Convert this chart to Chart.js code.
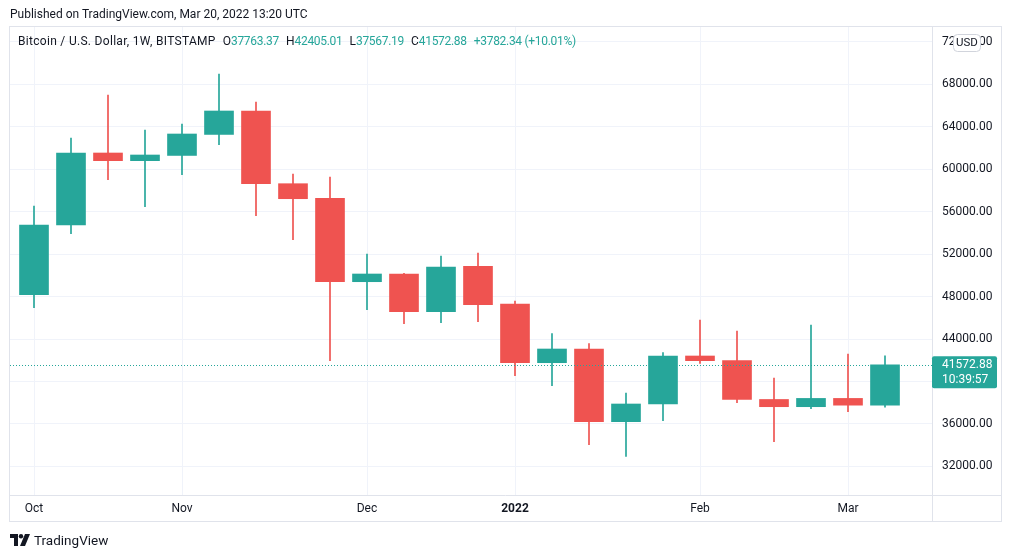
<!DOCTYPE html>
<html>
<head>
<meta charset="utf-8">
<script src="https://cdn.jsdelivr.net/npm/chart.js@4.4.1/dist/chart.umd.min.js"></script>
<style>
  html, body { margin: 0; padding: 0; background: #ffffff; }
  body { width: 1012px; height: 558px; position: relative; overflow: hidden; font-family: Roboto, "Liberation Sans", sans-serif; color: #131722; }
  #wrap { position: absolute; left: 0; top: 0; width: 1012px; height: 558px; }
  #published { position: absolute; left: 10px; top: 6px; font-size: 12px; line-height: 16px; color: #131722; white-space: nowrap; }
  #legend { position: absolute; left: 18px; top: 33px; font-size: 12px; line-height: 16px; color: #131722; white-space: nowrap; }
  #legend .name { letter-spacing: 0.3px; }
  #legend .v { color: #26a69a; letter-spacing: -0.3px; }
  #legend .k { margin-left: 7px; }
  #footer { position: absolute; left: 10px; top: 531px; font-size: 13.5px; line-height: 18px; color: #131722; white-space: nowrap; display: flex; align-items: center; }
  #footer svg { margin-right: 4px; }
</style>
</head>
<body>
<div id="wrap"><canvas id="c" width="1012" height="558"></canvas></div>
<div id="published">Published on TradingView.com, Mar 20, 2022 13:20 UTC</div>
<div id="legend"><span class="name">Bitcoin / U.S. Dollar, 1W, BITSTAMP</span><span class="k">O</span><span class="v">37763.37</span><span class="k">H</span><span class="v">42405.01</span><span class="k">L</span><span class="v">37567.19</span><span class="k">C</span><span class="v">41572.88</span><span class="v" style="margin-left:7px">+3782.34 (+10.01%)</span></div>
<div id="footer"><svg width="20" height="12" viewBox="0 0 20 12"><path d="M0 0h8v12H4V4H0z" fill="#131722"/><circle cx="11" cy="2.2" r="2.2" fill="#131722"/><path d="M15 0h5l-5 12h-5z" fill="#131722"/></svg>TradingView</div>
<script>
// ---- Data (weekly candles, BTC/USD Bitstamp) ----
const weeks  = ["2021-10-04","2021-10-11","2021-10-18","2021-10-25","2021-11-01","2021-11-08","2021-11-15","2021-11-22",
                "2021-11-29","2021-12-06","2021-12-13","2021-12-20","2021-12-27","2022-01-03","2022-01-10","2022-01-17",
                "2022-01-24","2022-01-31","2022-02-07","2022-02-14","2022-02-21","2022-02-28","2022-03-07","2022-03-14"];
const opens  = [48175, 54745, 61530, 60805, 61300, 63280, 65489, 58637, 57260, 49400, 50126, 46573,
                50850, 47280, 41766, 43057, 36206, 37874, 42398, 41960, 38300, 37619, 38400, 37763.37];
const highs  = [56535, 62944, 66997, 63698, 64264, 68976, 66337, 59551, 59268, 52011, 50190, 51823,
                52105, 47581, 44500, 43557, 38910, 42710, 45791, 44754, 40324, 45320, 42586, 42405.01];
const lows   = [46950, 53924, 59014, 56470, 59485, 62313, 55621, 53359, 41955, 46761, 45442, 45536,
                45630, 40541, 39598, 34038, 32944, 36300, 41710, 37996, 34321, 37431, 37148, 37567.19];
const closes = [54745, 61530, 60805, 61342, 63321, 65489, 58637, 57223, 49400, 50126, 46573, 50786,
                47233, 41766, 43057, 36206, 37874, 42398, 41960, 38300, 37619, 38400, 37763.37, 41572.88];
const timeTickWeeks  = ["2021-10-04","2021-11-01","2021-12-06","2022-01-03","2022-02-07","2022-03-07"];
const timeTickLabels = ["Oct","Nov","Dec","2022","Feb","Mar"];
const priceTicks = [32000, 36000, 40000, 44000, 48000, 52000, 56000, 60000, 64000, 68000, 72000];
const lastPrice = 41572.88;
const countdown = "10:39:57";
const currency = "USD";

const UP = '#26a69a', DOWN = '#ef5350';
const FONT = 'Roboto, "Liberation Sans", sans-serif';

const bodyData = weeks.map((w, i) => ({ x: i, y: [opens[i], closes[i]] }));
const wickData = weeks.map((w, i) => ({ x: i, y: [lows[i], highs[i]] }));
const colors = weeks.map((w, i) => closes[i] >= opens[i] ? UP : DOWN);
const tickIdx = timeTickWeeks.map(w => weeks.indexOf(w));

const overlay = {
  id: 'overlay',
  beforeDraw(chart) {
    const c = chart.ctx;
    c.save(); c.fillStyle = '#ffffff'; c.fillRect(0, 0, chart.width, chart.height); c.restore();
  },
  afterDatasetsDraw(chart) {
    const c = chart.ctx, a = chart.chartArea, y = Math.round(chart.scales.y.getPixelForValue(lastPrice)) + 0.5;
    c.save();
    c.strokeStyle = UP; c.lineWidth = 1; c.setLineDash([1, 2]);
    c.beginPath(); c.moveTo(a.left, y); c.lineTo(a.right, y); c.stroke();
    c.restore();
  },
  afterDraw(chart) {
    const c = chart.ctx, a = chart.chartArea, ys = chart.scales.y, xs = chart.scales.x;
    c.save();
    // frame
    c.strokeStyle = '#e0e3eb'; c.lineWidth = 1;
    const L = a.left - 0.5, T = a.top - 0.5, R = ys.right - 0.5, B = xs.bottom - 0.5;
    c.strokeRect(L, T, R - L, B - T);
    c.beginPath();
    c.moveTo(a.right + 0.5, T); c.lineTo(a.right + 0.5, B);
    c.moveTo(L, a.bottom + 0.5); c.lineTo(R, a.bottom + 0.5);
    c.stroke();
    // last price label
    const py = ys.getPixelForValue(lastPrice);
    c.fillStyle = UP;
    c.beginPath(); c.roundRect(a.right, py - 8.5, 65, 32, 2); c.fill();
    c.fillStyle = '#ffffff'; c.font = '12px ' + FONT; c.textBaseline = 'middle'; c.textAlign = 'left';
    c.fillText(lastPrice.toFixed(2), a.right + 10, py + 0.5);
    c.fillText(countdown, a.right + 10, py + 15.5);
    // currency badge
    c.fillStyle = '#ffffff'; c.strokeStyle = '#d1d4dc';
    c.beginPath(); c.roundRect(953.5, 34.5, 27, 17, 4); c.fill(); c.stroke();
    c.fillStyle = '#131722'; c.font = '11.5px ' + FONT; c.textAlign = 'center';
    c.fillText(currency, 967, 43.5);
    c.restore();
  }
};

new Chart(document.getElementById('c'), {
  type: 'bar',
  data: {
    datasets: [
      { label: 'body', data: bodyData, backgroundColor: colors, borderWidth: 0, barThickness: 29, grouped: false, order: 0, borderSkipped: false },
      { label: 'wick', data: wickData, backgroundColor: colors, borderWidth: 0, barThickness: 1, grouped: false, order: 1, borderSkipped: false }
    ]
  },
  options: {
    responsive: false,
    animation: false,
    events: [],
    layout: { padding: { left: 10, top: 27, right: 10, bottom: 36 } },
    plugins: { legend: { display: false }, tooltip: { enabled: false } },
    scales: {
      x: {
        type: 'linear',
        offset: false,
        bounds: 'data',
        min: -24 / 37,
        max: (932 - 34) / 37,
        position: 'bottom',
        grid: { color: '#f0f3fa', drawTicks: false, offset: false },
        border: { display: false },
        afterBuildTicks: s => { s.ticks = tickIdx.map(v => ({ value: v })); },
        afterFit: s => { s.height = 27; },
        ticks: {
          autoSkip: false, maxRotation: 0, padding: 7, color: '#131722',
          font: ctx => ({ family: FONT, size: 12, weight: (ctx.tick && timeTickLabels[tickIdx.indexOf(ctx.tick.value)] === '2022') ? 'bold' : 'normal' }),
          callback: v => timeTickLabels[tickIdx.indexOf(v)]
        }
      },
      y: {
        type: 'linear',
        position: 'right',
        min: 29297,
        max: 73406,
        grid: { color: '#f0f3fa', drawTicks: false },
        border: { display: false },
        afterBuildTicks: s => { s.ticks = priceTicks.map(v => ({ value: v })); },
        afterFit: s => { s.width = 70; },
        ticks: { padding: 10, color: '#131722', font: { family: FONT, size: 12 }, callback: v => Number(v).toFixed(2) }
      }
    }
  },
  plugins: [overlay]
});
</script>
</body>
</html>
